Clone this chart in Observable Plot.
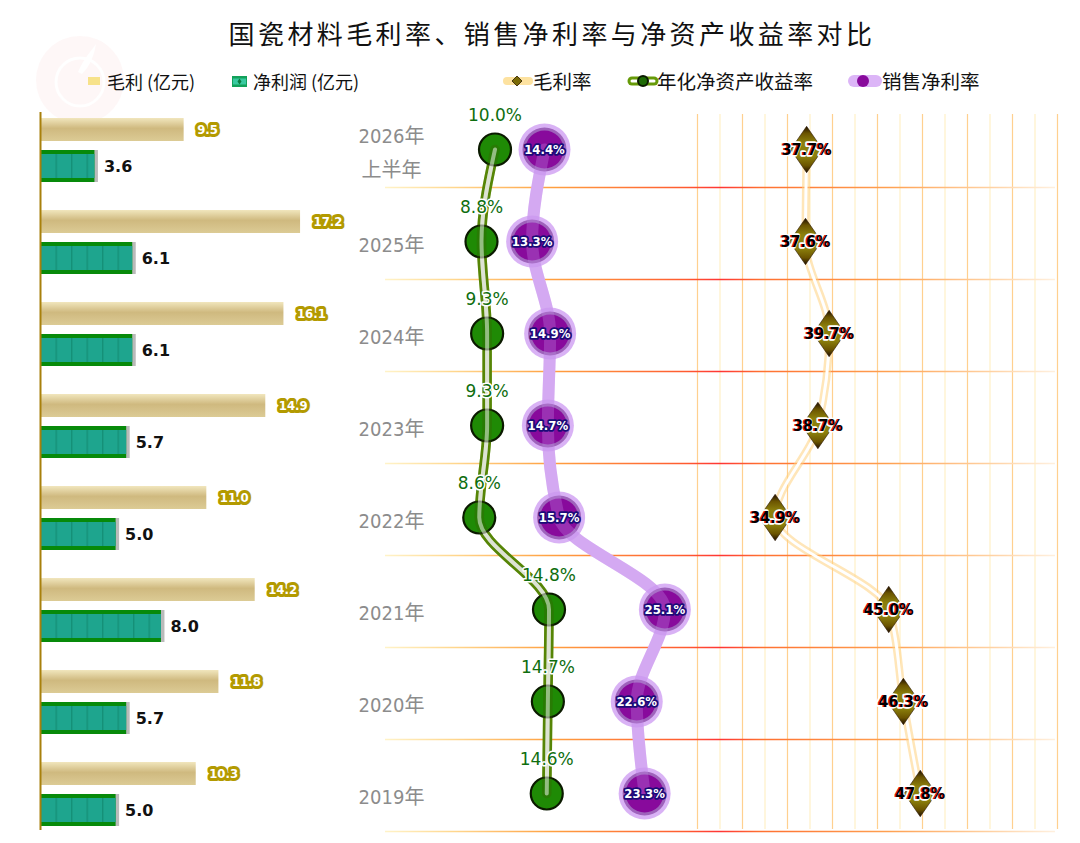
<!DOCTYPE html>
<html><head><meta charset="utf-8">
<script src="https://cdn.jsdelivr.net/npm/d3@7"></script>
<script src="https://cdn.jsdelivr.net/npm/@observablehq/plot@0.6"></script>
<style>
body{margin:0;background:#fff;font-family:"Noto Sans CJK SC","Noto Sans",sans-serif;}
#wrap{position:relative;width:1080px;height:843px;overflow:hidden;background:#fff}
#title{position:absolute;left:12px;top:13px;width:1080px;text-align:center;font-size:26px;letter-spacing:3.4px;color:#111;line-height:40px}
.leg{position:absolute;top:66px;height:30px;line-height:30px;color:#111;white-space:nowrap}
.sw{position:absolute;top:66px}
#left,#right{position:absolute;top:100px;left:0}
</style></head>
<body><div id="wrap">
<svg id="logo" width="200" height="140" style="position:absolute;left:0;top:0">
  <circle cx="80" cy="80" r="44" fill="#fdeaea" opacity="0.4"/>
  <circle cx="80" cy="82" r="24" fill="none" stroke="#fff" stroke-width="3" opacity="0.9"/>
  <path d="M78 72 C84 58 92 50 96 44 C94 56 90 66 82 74 Z" fill="#fff" opacity="0.9"/>
</svg>
<div id="title"></div>
<div id="legends"></div>
<div id="left"></div>
<div id="right"></div>
</div>
<script>
// ---- data ----
const years = ["2026年\n上半年","2025年","2024年","2023年","2022年","2021年","2020年","2019年"];
const grossProfit = [9.5,17.2,16.1,14.9,11.0,14.2,11.8,10.3];   // 毛利 (亿元)
const netProfit   = [3.6,6.1,6.1,5.7,5.0,8.0,5.7,5.0];          // 净利润 (亿元)
const roe         = [10.0,8.8,9.3,9.3,8.6,14.8,14.7,14.6];      // 年化净资产收益率 %
const netMargin   = [14.4,13.3,14.9,14.7,15.7,25.1,22.6,23.3];  // 销售净利率 %
const grossMargin = [37.7,37.6,39.7,38.7,34.9,45.0,46.3,47.8];  // 毛利率 %
const titleText = "国瓷材料毛利率、销售净利率与净资产收益率对比";
const leftLegend = ["毛利 (亿元)","净利润 (亿元)"];
const rightLegend = ["毛利率","年化净资产收益率","销售净利率"];
const gridTicks = d3.range(28, 61, 2);

const rows = years.map((year,i)=>({year, gp:grossProfit[i], np:netProfit[i], roe:roe[i], nm:netMargin[i], gm:grossMargin[i]}));
const NARROW = "'DejaVu Sans Condensed', 'Liberation Sans', sans-serif";

document.getElementById("title").textContent = titleText;

// ---- legends ----
const lg = document.getElementById("legends");
lg.innerHTML = `
<svg class="sw" style="left:84px" width="20" height="30"><rect x="4" y="11" width="12" height="8" fill="#f7e28a"/></svg>
<div class="leg" style="left:107px;font-size:18px">${leftLegend[0]}</div>
<svg class="sw" style="left:229px" width="22" height="30"><rect x="3" y="10" width="15" height="11" fill="#12a15a"/><rect x="4" y="12.5" width="13" height="6" fill="#39c9a0"/><path d="M10.5 12.5 L12.5 15.5 L10.5 18.5 L8.5 15.5Z" fill="#0b7d3e"/></svg>
<div class="leg" style="left:253px;font-size:18px">${leftLegend[1]}</div>
<svg class="sw" style="left:498px" width="40" height="30"><line x1="9" y1="15" x2="31" y2="15" stroke="#fde2a0" stroke-width="8" stroke-linecap="round"/><path d="M19 10 L24 15 L19 20 L14 15Z" fill="#7a6a05" stroke="#2a1800" stroke-width="0.8"/></svg>
<div class="leg" style="left:533px;font-size:19.5px">${rightLegend[0]}</div>
<svg class="sw" style="left:622px" width="40" height="30"><line x1="10" y1="15" x2="32" y2="15" stroke="#669a08" stroke-width="9" stroke-linecap="round"/><line x1="10" y1="15" x2="32" y2="15" stroke="#fff" stroke-width="3" stroke-linecap="round"/><circle cx="21" cy="15" r="5" fill="#1d6a05" stroke="#0b1a00" stroke-width="2"/></svg>
<div class="leg" style="left:657px;font-size:19.5px">${rightLegend[1]}</div>
<svg class="sw" style="left:842px" width="42" height="30"><line x1="12" y1="15" x2="34" y2="15" stroke="#dcb5f7" stroke-width="12" stroke-linecap="round"/><circle cx="21" cy="15" r="6" fill="#880a9c"/></svg>
<div class="leg" style="left:882px;font-size:19.5px">${rightLegend[2]}</div>`;

// ---- left panel: bars ----
const left = Plot.plot({
  width: 360, height: 743, margin: 0,
  style: {background: "transparent", overflow: "visible"},
  x: {domain: [0, 20], range: [40, 342.4], axis: null},
  y: {type: "band", domain: years, range: [3, 739], padding: 0, axis: null},
  marks: [
    Plot.barX(rows, {x: "gp", y: "year", insetTop: 15, insetBottom: 54, fill: "url(#gpGrad)"}),
    Plot.barX(rows, {x: "np", y: "year", insetTop: 47, insetBottom: 13, fill: "#666", fillOpacity: 0.45, dx: 3.5}),
    Plot.barX(rows, {x: "np", y: "year", insetTop: 47, insetBottom: 13, fill: "#078a0a"}),
    Plot.barX(rows, {x: "np", y: "year", insetTop: 51, insetBottom: 17, fill: "url(#npPat)"}),
    Plot.ruleX([0], {insetTop: 12, insetBottom: 13, stroke: "#a8800c", strokeWidth: 2}),
    Plot.text(rows, {x: "gp", y: "year", text: d => d.gp.toFixed(1), dx: 13, dy: -19.5, textAnchor: "start",
      fill: "#fff", stroke: "#b39a00", strokeWidth: 6, strokeLinejoin: "round", paintOrder: "stroke",
      fontWeight: "bold", fontSize: 13, fontFamily: NARROW}),
    Plot.text(rows, {x: "np", y: "year", text: d => d.np.toFixed(1), dx: 9, dy: 17, textAnchor: "start",
      fill: "#111", fontWeight: "bold", fontSize: 16, fontFamily: "DejaVu Sans"})
  ]
});
d3.select(left).insert("defs", ":first-child").html(`
  <linearGradient id="gpGrad" x1="0" y1="0" x2="0" y2="1">
    <stop offset="0" stop-color="#f1e6bd"/><stop offset="0.45" stop-color="#cfb97f"/><stop offset="1" stop-color="#dccb95"/>
  </linearGradient>
  <pattern id="npPat" patternUnits="userSpaceOnUse" x="40" y="0" width="15.5" height="10">
    <rect width="15.5" height="10" fill="#1ea58e"/><rect x="0" width="1.4" height="10" fill="#159078"/>
  </pattern>`);
document.getElementById("left").appendChild(left);

// ---- right panel: rates ----
const tallDiamond = {draw(ctx, size){ const r = Math.sqrt(size/Math.PI), h = r*1.45;
  ctx.moveTo(0,-h); ctx.lineTo(r,0); ctx.lineTo(0,h); ctx.lineTo(-r,0); ctx.closePath(); }};
const curve = "monotone-y";
const right = Plot.plot({
  width: 1080, height: 743, marginLeft: 385, marginRight: 25, marginTop: 14, marginBottom: 14,
  style: {background: "transparent", overflow: "visible"},
  x: {domain: [0, 60], range: [382, 1057], axis: null},
  y: {type: "point", domain: years, range: [3, 739], padding: 0.5},
  marks: [
    Plot.ruleX(gridTicks, {stroke: d => (d % 4 === 0 ? "#ffd08f" : "#fff0c6"), strokeWidth: 1.2}),
    Plot.ruleY(years, {y: d => d, dy: 38, stroke: "url(#sepGrad)", strokeWidth: 1.6}),
    Plot.axisY({anchor: "left", tickSize: 0, tickPadding: -6, textAnchor: "middle", fontSize: 20, lineHeight: 1.7,
      fill: "#8c8c8c", fontFamily: "'DejaVu Sans Condensed', 'Noto Sans CJK SC'", label: null}),
    // 毛利率
    Plot.line(rows, {x: "gm", y: "year", curve, stroke: "#ffd27f", strokeWidth: 8, strokeOpacity: 0.55}),
    Plot.line(rows, {x: "gm", y: "year", curve, stroke: "#fff", strokeWidth: 3}),
    Plot.dot(rows, {x: "gm", y: "year", symbol: tallDiamond, r: 16, fill: "url(#dmGrad)", stroke: "#2a1500", strokeWidth: 0.6}),
    Plot.text(rows, {x: "gm", y: "year", text: d => d.gm.toFixed(1) + "%", dx: -1.2, fill: "#e81010", stroke: "#fff", strokeWidth: 3.5,
      paintOrder: "stroke", fontWeight: "bold", fontSize: 16, fontFamily: NARROW}),
    Plot.text(rows, {x: "gm", y: "year", text: d => d.gm.toFixed(1) + "%", fill: "#000",
      fontWeight: "bold", fontSize: 16, fontFamily: NARROW}),
    // 年化净资产收益率
    Plot.line(rows, {x: "roe", y: "year", curve, stroke: "#669a08", strokeWidth: 9.5, strokeLinecap: "round"}),
    Plot.line(rows, {x: "roe", y: "year", curve, stroke: "#fff", strokeWidth: 4, strokeLinecap: "round"}),
    Plot.dot(rows, {x: "roe", y: "year", r: 16, fill: "#1f8a05", stroke: "#0b1a00", strokeWidth: 2.2}),
    Plot.line(rows, {x: "roe", y: "year", curve, stroke: "#3a5e02", strokeWidth: 9.5, strokeOpacity: 0.35, strokeLinecap: "round"}),
    Plot.line(rows, {x: "roe", y: "year", curve, stroke: "#fff", strokeWidth: 4, strokeOpacity: 0.5, strokeLinecap: "round"}),
    Plot.text(rows, {x: "roe", y: "year", text: d => d.roe.toFixed(1) + "%", dy: -34, fill: "#0f6e0f", stroke: "#fff", strokeWidth: 3,
      paintOrder: "stroke", fontSize: 17, fontFamily: "DejaVu Sans", ariaLabel: "roe-label"}),
    // 销售净利率
    Plot.line(rows, {x: "nm", y: "year", curve, stroke: "#dcb5f7", strokeWidth: 12}),
    Plot.dot(rows, {x: "nm", y: "year", r: 26, fill: "#cf9ff2", fillOpacity: 0.8}),
    Plot.dot(rows, {x: "nm", y: "year", r: 22, fill: "#9e63bb"}),
    Plot.dot(rows, {x: "nm", y: "year", r: 19, fill: "#880a9c"}),
    Plot.line(rows, {x: "nm", y: "year", curve, stroke: "#c58ee8", strokeWidth: 12, strokeOpacity: 0.3}),
    Plot.text(rows, {x: "nm", y: "year", text: d => d.nm.toFixed(1) + "%", fill: "#fff", stroke: "#1c0a78", strokeWidth: 3.5,
      paintOrder: "stroke", fontWeight: "bold", fontSize: 13, fontFamily: NARROW})
  ]
});
d3.select(right).insert("defs", ":first-child").html(`
  <linearGradient id="sepGrad" gradientUnits="userSpaceOnUse" x1="385" y1="0" x2="1055" y2="0">
    <stop offset="0" stop-color="#fff3c8"/><stop offset="0.1" stop-color="#ffd890"/><stop offset="0.25" stop-color="#ffa040"/>
    <stop offset="0.45" stop-color="#ff5a30"/><stop offset="0.5" stop-color="#ff3535"/><stop offset="0.56" stop-color="#ff7030"/>
    <stop offset="0.75" stop-color="#ffa050"/><stop offset="0.9" stop-color="#ffd0a0"/><stop offset="1" stop-color="#fff0de"/>
  </linearGradient>
  <linearGradient id="dmGrad" x1="0" y1="0" x2="0" y2="1">
    <stop offset="0" stop-color="#1e0d00"/><stop offset="0.15" stop-color="#6b5400"/><stop offset="0.35" stop-color="#8c800c"/>
    <stop offset="0.65" stop-color="#8c800c"/><stop offset="0.85" stop-color="#6b5400"/><stop offset="1" stop-color="#1e0d00"/>
  </linearGradient>`);
d3.select(right).selectAll('g[aria-label="roe-label"] text').style("letter-spacing", "1.5px");
document.getElementById("right").appendChild(right);
</script>
</body></html>
